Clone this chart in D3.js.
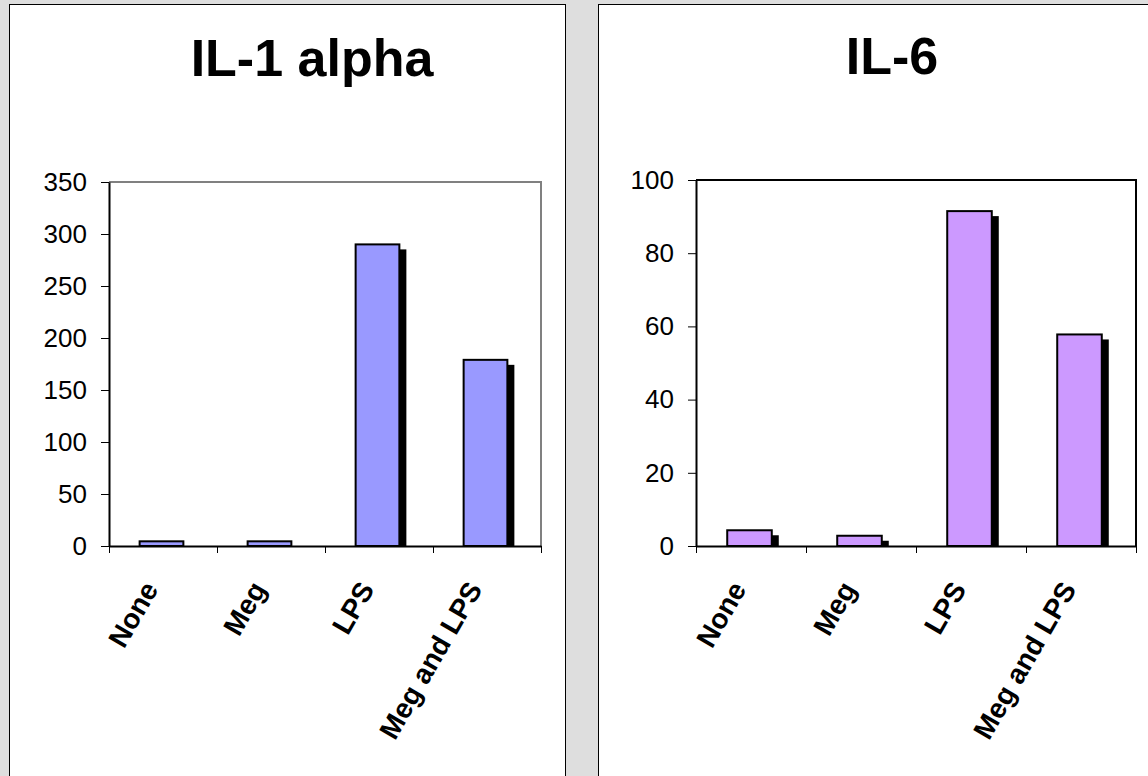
<!DOCTYPE html>
<html>
<head>
<meta charset="utf-8">
<script src="https://cdn.jsdelivr.net/npm/d3@7"></script>
<style>
  body { margin: 0; background: #dedede; }
  svg { display: block; font-family: "Liberation Sans", Arial, Helvetica, sans-serif; }
</style>
</head>
<body>
<svg id="chart" width="1148" height="776"></svg>
<script>
// Treatment groups shared by both panels
const categories = ["None", "Meg", "LPS", "Meg and LPS"];

// IL-1 alpha panel
const il1Title = "IL-1 alpha";
const il1Values = [4.5, 4.5, 290, 179];
const il1Ticks = [0, 50, 100, 150, 200, 250, 300, 350];

// IL-6 panel
const il6Title = "IL-6";
const il6Values = [4.3, 2.8, 91.5, 57.8];
const il6Ticks = [0, 20, 40, 60, 80, 100];

const svg = d3.select("#chart");

const panels = [
  {
    title: il1Title, values: il1Values, ticks: il1Ticks,
    card: { x: 9, y: 4, w: 556, h: 790 },
    titleX: 312, titleY: 76,
    plot: { left: 109, right: 541, top: 182, bottom: 546 },
    fill: "#9999ff", frame: "#808080"
  },
  {
    title: il6Title, values: il6Values, ticks: il6Ticks,
    card: { x: 598, y: 4, w: 560, h: 790 },
    titleX: 892, titleY: 74,
    plot: { left: 696, right: 1136, top: 180, bottom: 546 },
    fill: "#cc99ff", frame: "#000000"
  }
];

panels.forEach(drawPanel);

function drawPanel(p) {
  const g = svg.append("g");

  // white card with thin border
  g.append("rect")
    .attr("x", p.card.x + 0.5).attr("y", p.card.y + 0.5)
    .attr("width", p.card.w).attr("height", p.card.h)
    .attr("fill", "#ffffff").attr("stroke", "#000").attr("stroke-width", 1);

  g.append("text")
    .attr("x", p.titleX).attr("y", p.titleY)
    .attr("text-anchor", "middle")
    .attr("font-size", 52).attr("font-weight", "bold")
    .text(p.title);

  const y = d3.scaleLinear()
    .domain([0, d3.max(p.ticks)])
    .range([p.plot.bottom, p.plot.top]);

  const x = d3.scaleBand()
    .domain(categories)
    .range([p.plot.left, p.plot.right])
    .padding(0);

  const edges = d3.scaleLinear()
    .domain([0, categories.length])
    .range([p.plot.left, p.plot.right]);

  // plot frame (top and right sides)
  g.append("path")
    .attr("d", `M${p.plot.left},${p.plot.top}H${p.plot.right}V${p.plot.bottom}`)
    .attr("fill", "none").attr("stroke", p.frame).attr("stroke-width", 2);

  const barW = x.bandwidth() * 0.405;
  const shadowDx = 7, shadowDy = 5;
  const barX = c => x(c) + x.bandwidth() / 2 - barW / 2 - 1.5;

  // drop shadows behind the bars
  g.selectAll("rect.shadow")
    .data(p.values)
    .join("rect")
    .attr("class", "shadow")
    .attr("x", (d, i) => barX(categories[i]) + shadowDx)
    .attr("y", d => y(d) + shadowDy)
    .attr("width", barW)
    .attr("height", d => Math.max(0, y(0) - y(d) - shadowDy))
    .attr("fill", "#000");

  g.selectAll("rect.bar")
    .data(p.values)
    .join("rect")
    .attr("class", "bar")
    .attr("x", (d, i) => barX(categories[i]))
    .attr("y", d => y(d))
    .attr("width", barW)
    .attr("height", d => y(0) - y(d))
    .attr("fill", p.fill)
    .attr("stroke", "#000")
    .attr("stroke-width", 2);

  // y axis
  const yAxis = g.append("g")
    .attr("transform", `translate(${p.plot.left},0)`)
    .call(d3.axisLeft(y).tickValues(p.ticks).tickSize(8).tickSizeOuter(0).tickPadding(14));
  yAxis.select(".domain").attr("stroke", "#000").attr("stroke-width", 2);
  yAxis.selectAll(".tick line").attr("stroke", "#000").attr("stroke-width", 1);
  yAxis.selectAll(".tick text")
    .attr("font-size", 26).attr("font-family", "Liberation Sans, Arial, sans-serif").attr("fill", "#000");

  // x axis: ticks at category boundaries
  const xAxis = g.append("g")
    .attr("transform", `translate(0,${p.plot.bottom})`)
    .call(d3.axisBottom(edges).tickValues(d3.range(categories.length + 1)).tickSize(7).tickSizeOuter(0).tickFormat(""));
  xAxis.select(".domain").attr("stroke", "#000").attr("stroke-width", 2);
  xAxis.selectAll(".tick line").attr("stroke", "#000").attr("stroke-width", 1);

  // rotated category labels
  g.selectAll("text.cat")
    .data(categories)
    .join("text")
    .attr("class", "cat")
    .attr("text-anchor", "end")
    .attr("font-size", 28).attr("font-weight", "bold")
    .attr("transform", c => `translate(${x(c) + x.bandwidth() / 2 - 4},${p.plot.bottom + 43}) rotate(-60)`)
    .text(c => c);
}
</script>
</body>
</html>
